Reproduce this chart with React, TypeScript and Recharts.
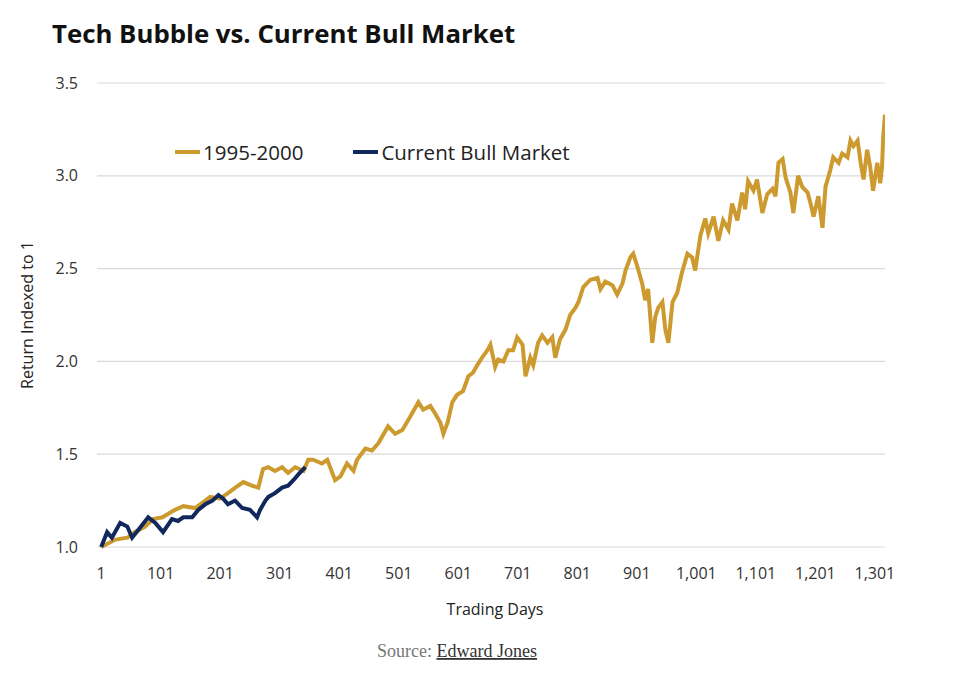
import React from "react";
import { LineChart, Line, XAxis, YAxis, CartesianGrid, Legend } from "recharts";

const goldDays = [
  1, 25, 45, 57, 75, 88, 104, 125, 139, 159,
  176, 184, 201, 214, 231, 240, 255, 265, 273, 282,
  293, 305, 315, 327, 341, 349, 357, 372, 381, 394,
  403, 414, 425, 431, 445, 456, 467, 483, 495, 507,
  520, 534, 542, 554, 562, 571, 576, 583, 591, 599,
  609, 618, 626, 633, 641, 650, 655, 663, 668, 677,
  685, 693, 700, 709, 714, 722, 727, 735, 742, 751,
  759, 764, 772, 781, 789, 798, 803, 811, 823, 835,
  840, 848, 860, 868, 877, 882, 890, 895, 902, 910,
  915, 920, 927, 932, 937, 944, 949, 954, 961, 969,
  977, 986, 994, 999, 1008, 1016, 1021, 1030, 1038, 1046,
  1055, 1061, 1070, 1078, 1083, 1088, 1097, 1103, 1112, 1120,
  1129, 1134, 1139, 1146, 1151, 1159, 1164, 1172, 1179, 1188,
  1193, 1198, 1206, 1213, 1218, 1226, 1231, 1240, 1246, 1255,
  1260, 1265, 1272, 1277, 1282, 1288, 1293, 1298, 1305, 1310,
  1313, 1315, 1318,
];
const goldValues = [
  1.0, 1.04, 1.05, 1.08, 1.11, 1.15, 1.16, 1.2, 1.22, 1.21,
  1.25, 1.27, 1.26, 1.29, 1.33, 1.35, 1.33, 1.32, 1.42, 1.43,
  1.41, 1.43, 1.4, 1.43, 1.41, 1.47, 1.47, 1.45, 1.47, 1.36,
  1.38, 1.45, 1.41, 1.47, 1.53, 1.52, 1.56, 1.65, 1.61, 1.63,
  1.7, 1.78, 1.74, 1.76, 1.72, 1.67, 1.61, 1.67, 1.78, 1.82,
  1.84, 1.92, 1.94, 1.98, 2.02, 2.06, 2.09, 1.97, 2.01, 2.0,
  2.06, 2.06, 2.13, 2.09, 1.92, 2.02, 1.98, 2.1, 2.14, 2.1,
  2.13, 2.02, 2.12, 2.17, 2.25, 2.29, 2.32, 2.4, 2.44, 2.45,
  2.39, 2.43, 2.41, 2.36, 2.42, 2.49, 2.56, 2.58, 2.51, 2.42,
  2.33, 2.39, 2.1, 2.24, 2.29, 2.32, 2.17, 2.1, 2.32, 2.37,
  2.48, 2.58, 2.56, 2.49, 2.68, 2.77, 2.69, 2.78, 2.65, 2.76,
  2.71, 2.85, 2.76, 2.91, 2.82, 2.97, 2.92, 2.98, 2.8, 2.9,
  2.93, 2.89, 3.07, 3.09, 2.99, 2.91, 2.8, 3.0, 2.94, 2.91,
  2.85, 2.78, 2.89, 2.72, 2.94, 3.03, 3.1, 3.07, 3.12, 3.1,
  3.19, 3.16, 3.19, 3.07, 2.98, 3.14, 3.05, 2.92, 3.07, 2.96,
  3.05, 3.21, 3.33,
];

const blueDays = [
  1, 11, 19, 33, 45, 53, 63, 80, 92, 105,
  120, 130, 139, 154, 164, 176, 188, 198, 206, 214,
  226, 238, 251, 263, 268, 277, 282, 293, 305, 315,
  324, 332, 344,
];
const blueValues = [
  1.0, 1.08, 1.05, 1.13, 1.11, 1.05, 1.09, 1.16, 1.13, 1.08,
  1.15, 1.14, 1.16, 1.16, 1.2, 1.23, 1.25, 1.28, 1.26, 1.23,
  1.25, 1.21, 1.2, 1.16, 1.2, 1.25, 1.27, 1.29, 1.32, 1.33,
  1.36, 1.39, 1.43,
];

const xTicks = [1, 101, 201, 301, 401, 501, 601, 701, 801, 901, 1001, 1101, 1201, 1301];
const yTicks = [1.0, 1.5, 2.0, 2.5, 3.0, 3.5];

const seriesNames = ["1995-2000", "Current Bull Market"];
const GOLD = "#CC9A2E";
const NAVY = "#10285C";

const goldData = goldDays.map((d, i) => ({ day: d, value: goldValues[i] }));
const blueData = blueDays.map((d, i) => ({ day: d, value: blueValues[i] }));

const FONT = "'Open Sans', 'Noto Sans', sans-serif";

const renderLegend = (props: any) => {
  const payload = props.payload || [];
  return (
    <div style={{ display: "flex", alignItems: "center", height: 24, fontFamily: FONT, fontSize: 20.5, color: "#222" }}>
      {payload.map((p: any, i: number) => (
        <div key={i} style={{ display: "flex", alignItems: "center", marginRight: i === 0 ? 50 : 0 }}>
          <div style={{ width: 25, height: 4, background: p.color }} />
          <span style={{ marginLeft: 3, whiteSpace: "nowrap" }}>{p.value}</span>
        </div>
      ))}
    </div>
  );
};

export default function App() {
  return (
    <div style={{ position: "absolute", left: 0, top: 0, width: 971, height: 673, background: "#fff" }}>
      <LineChart
        width={971}
        height={673}
        margin={{ top: 83, right: 86, bottom: 96, left: 37 }}
      >
        <CartesianGrid horizontal={true} vertical={false} stroke="#d9d9d9" strokeWidth={1.2} />
        <XAxis
          dataKey="day"
          type="number"
          domain={[-6, 1318]}
          ticks={xTicks}
          allowDataOverflow
          axisLine={false}
          tickLine={false}
          tickSize={0}
          tickMargin={21}
          height={30}
          interval={0}
          tickFormatter={(v: number) => v.toLocaleString("en-US")}
          tick={{ fontFamily: FONT, fontSize: 16, fill: "#333" }}
        />
        <YAxis
          type="number"
          domain={[1, 3.5]}
          ticks={yTicks}
          width={60}
          axisLine={false}
          tickLine={false}
          tickSize={0}
          tickMargin={19}
          tickFormatter={(v: number) => v.toFixed(1)}
          tick={{ fontFamily: FONT, fontSize: 16, fill: "#333" }}
        />
        <Legend
          verticalAlign="middle"
          layout="horizontal"
          content={renderLegend}
          wrapperStyle={{ position: "absolute", top: 140, left: 175, width: 450, height: 24 }}
        />
        <Line
          data={goldData}
          dataKey="value"
          name={seriesNames[0]}
          stroke={GOLD}
          strokeWidth={4}
          dot={false}
          activeDot={false}
          type="linear"
          isAnimationActive={false}
        />
        <Line
          data={blueData}
          dataKey="value"
          name={seriesNames[1]}
          stroke={NAVY}
          strokeWidth={4}
          dot={false}
          activeDot={false}
          type="linear"
          isAnimationActive={false}
        />
      </LineChart>
      <svg
        width={971}
        height={673}
        style={{ position: "absolute", left: 0, top: 0, pointerEvents: "none" }}
      >
        <text x={52} y={43} fontFamily={FONT} fontWeight={700} fontSize={25.8} fill="#111">
          Tech Bubble vs. Current Bull Market
        </text>
        <text
          x={0}
          y={0}
          transform="translate(27,315) rotate(-90)"
          textAnchor="middle"
          dominantBaseline="central"
          fontFamily={FONT}
          fontSize={16}
          fill="#222"
        >
          Return Indexed to 1
        </text>
        <text x={495} y={615} textAnchor="middle" fontFamily={FONT} fontSize={16} fill="#222">
          Trading Days
        </text>
        <text x={457} y={657} textAnchor="middle" fontFamily="'Liberation Serif', 'DejaVu Serif', serif" fontSize={18}>
          <tspan fill="#777">Source: </tspan>
          <tspan fill="#333" textDecoration="underline">Edward Jones</tspan>
        </text>
      </svg>
    </div>
  );
}
